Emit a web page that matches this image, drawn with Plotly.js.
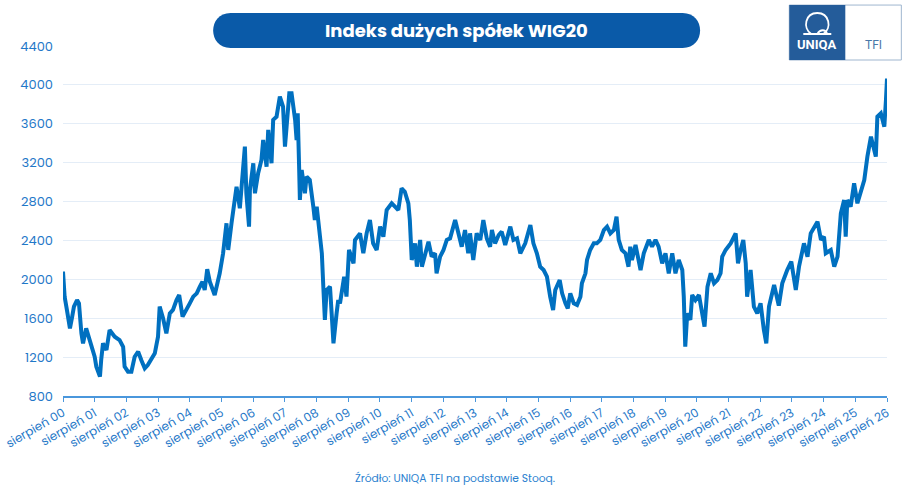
<!DOCTYPE html>
<html>
<head>
<meta charset="utf-8">
<script src="https://cdn.plot.ly/plotly-3.0.1.min.js"></script>
<style>
  html, body { margin: 0; padding: 0; background: #fff; }
  #chart { width: 907px; height: 494px; }
</style>
</head>
<body>
<div id="chart"></div>
<script>
// WIG20 - odczyt z wykresu
const dates = [
  "2000-08-01","2000-08-20","2000-09-15","2000-10-20","2000-11-15","2000-12-05",
  "2001-01-10","2001-02-01","2001-03-01","2001-03-20","2001-04-25","2001-06-05","2001-07-10","2001-08-01","2001-08-20","2001-10-01","2001-10-15","2001-11-05","2001-12-15",
  "2002-01-20","2002-03-20","2002-05-15","2002-06-25","2002-07-12","2002-08-20","2002-09-28","2002-11-05","2002-12-15",
  "2003-01-20","2003-03-01","2003-04-05","2003-05-15","2003-06-25","2003-08-01","2003-08-20","2003-09-28","2003-11-05","2003-12-15",
  "2004-01-20","2004-03-01","2004-04-01","2004-05-10","2004-06-15","2004-08-01","2004-09-10","2004-10-20","2004-11-25","2004-12-25",
  "2005-01-20","2005-02-18","2005-03-20","2005-05-15","2005-07-12","2005-08-20","2005-09-28","2005-10-18","2005-11-25",
  "2006-01-03","2006-01-22","2006-03-01","2006-03-20","2006-04-28","2006-05-15","2006-06-15","2006-06-25","2006-08-03","2006-08-22","2006-09-28","2006-11-05","2006-11-25",
  "2007-01-03","2007-01-22","2007-03-01","2007-03-20","2007-04-28","2007-06-05","2007-07-12","2007-08-03","2007-08-22","2007-09-22","2007-10-18","2007-11-28","2007-12-15","2007-12-28",
  "2008-01-12","2008-01-22","2008-02-12","2008-03-20","2008-04-08","2008-05-15","2008-06-25","2008-07-12","2008-08-03","2008-09-10","2008-10-01","2008-10-18","2008-11-05","2008-11-25",
  "2009-01-03","2009-01-22","2009-02-12","2009-03-20","2009-04-08","2009-04-28","2009-05-15","2009-06-15","2009-07-12","2009-08-10","2009-10-01","2009-10-18","2009-12-15",
  "2010-01-22","2010-03-01","2010-04-08","2010-05-15","2010-06-25","2010-08-03","2010-09-10","2010-10-18","2010-12-15",
  "2011-01-22","2011-03-01","2011-04-08","2011-05-15","2011-06-25","2011-07-12","2011-08-03","2011-09-10","2011-10-01","2011-11-08","2011-11-28",
  "2012-01-03","2012-02-12","2012-03-20","2012-04-28","2012-05-15","2012-06-25","2012-08-03","2012-09-10","2012-10-18","2012-12-15",
  "2013-01-22","2013-03-01","2013-04-08","2013-05-15","2013-06-05","2013-07-12","2013-08-20","2013-10-01","2013-11-05","2013-12-15",
  "2014-01-22","2014-02-12","2014-03-20","2014-05-01","2014-06-05","2014-07-15","2014-09-12","2014-10-18","2014-11-28",
  "2015-01-05","2015-03-03","2015-05-01","2015-06-05","2015-07-15","2015-08-22","2015-10-01","2015-11-08","2015-11-28","2015-12-15",
  "2016-01-18","2016-02-12","2016-04-03","2016-05-01","2016-06-08","2016-07-05","2016-08-03","2016-09-12","2016-10-20","2016-11-28","2016-12-15",
  "2017-01-25","2017-02-12","2017-03-20","2017-05-01","2017-06-05","2017-07-15","2017-08-25","2017-10-01","2017-11-08","2017-12-18",
  "2018-01-18","2018-02-12","2018-03-20","2018-05-01","2018-06-05","2018-06-25","2018-07-15","2018-08-25","2018-10-22","2018-11-28",
  "2019-01-25","2019-03-03","2019-04-12","2019-05-18","2019-06-28","2019-08-05","2019-09-12","2019-10-22","2019-11-28",
  "2020-01-05","2020-02-15","2020-03-03","2020-03-20","2020-04-12","2020-05-18","2020-06-08","2020-07-15","2020-08-25","2020-10-03","2020-10-28","2020-12-01",
  "2021-01-08","2021-02-15","2021-03-25","2021-05-01","2021-05-20","2021-06-28","2021-08-25","2021-10-22","2021-11-18","2021-12-18",
  "2022-01-18","2022-02-15","2022-03-03","2022-04-12","2022-05-20","2022-06-28","2022-08-05","2022-09-12","2022-10-10","2022-11-10","2022-12-01",
  "2023-01-08","2023-03-03","2023-04-12","2023-06-08","2023-07-25","2023-09-15","2023-10-22","2023-12-18",
  "2024-01-28","2024-03-05","2024-05-22","2024-07-01","2024-08-05","2024-08-25","2024-10-22","2024-12-01",
  "2025-01-08","2025-02-15","2025-03-25","2025-04-12","2025-05-01","2025-06-08","2025-07-18","2025-08-25","2025-10-03","2025-11-12","2025-12-18",
  "2026-01-28","2026-03-25","2026-04-12","2026-05-22","2026-07-01","2026-07-20","2026-08-01"
];

const wig20 = [
  2080,1820,1685,1496,1616,1719,
  1787,1753,1445,1342,1496,1376,1273,1205,1102,999,1170,1342,1273,
  1479,1410,1376,1307,1102,1050,1050,1204,1256,
  1170,1085,1119,1170,1239,1410,1719,1599,1445,1650,
  1685,1787,1839,1616,1685,1753,1822,1856,1925,1976,
  1890,2105,1975,1839,2062,2268,2576,2302,2576,
  2885,2953,2731,2953,3365,2885,2542,2919,3194,2885,3091,3228,3433,
  3159,3537,3194,3640,3673,3879,3776,3365,3570,3913,3913,3640,3433,3708,
  3194,2816,3125,2885,3056,3022,2747,2610,2747,2439,2268,1924,1582,1890,
  1924,1651,1342,1651,1787,1753,1856,2027,1822,2302,2165,2405,2473,
  2268,2473,2610,2370,2302,2542,2439,2713,2782,
  2747,2713,2936,2901,2782,2610,2199,2370,2130,2405,2130,
  2268,2387,2233,2268,2062,2233,2302,2405,2422,2610,
  2473,2336,2507,2268,2473,2199,2473,2405,2610,2420,
  2336,2507,2370,2456,2490,2353,2542,2405,2422,
  2268,2370,2559,2370,2268,2130,2096,2027,1890,1822,
  1685,1890,1993,1856,1753,1702,1856,1753,1736,1822,1959,
  2062,2199,2302,2370,2370,2405,2507,2542,2473,2507,
  2645,2405,2302,2268,2130,2336,2199,2353,2096,2268,
  2405,2336,2405,2336,2165,2268,2062,2268,2062,
  2199,2096,1822,1307,1651,1582,1839,1787,1839,1651,1513,1924,
  2062,1959,1993,2062,2233,2302,2370,2473,2165,2302,
  2405,2165,1822,2096,1719,1651,1753,1479,1342,1719,1787,
  1942,1730,1959,2096,2182,1890,2130,2370,
  2233,2473,2593,2405,2439,2268,2302,2130,
  2233,2679,2816,2439,2816,2747,2988,2782,2885,3022,3262,
  3468,3262,3673,3708,3570,3845,4065
];

const yTicks = [800, 1200, 1600, 2000, 2400, 2800, 3200, 3600, 4000, 4400];
const xTickVals = [
  "2000-08-01","2001-08-01","2002-08-01","2003-08-01","2004-08-01","2005-08-01","2006-08-01",
  "2007-08-01","2008-08-01","2009-08-01","2010-08-01","2011-08-01","2012-08-01","2013-08-01",
  "2014-08-01","2015-08-01","2016-08-01","2017-08-01","2018-08-01","2019-08-01","2020-08-01",
  "2021-08-01","2022-08-01","2023-08-01","2024-08-01","2025-08-01","2026-08-01"
];
const xTickText = [
  "sierpień 00","sierpień 01","sierpień 02","sierpień 03","sierpień 04","sierpień 05","sierpień 06",
  "sierpień 07","sierpień 08","sierpień 09","sierpień 10","sierpień 11","sierpień 12","sierpień 13",
  "sierpień 14","sierpień 15","sierpień 16","sierpień 17","sierpień 18","sierpień 19","sierpień 20",
  "sierpień 21","sierpień 22","sierpień 23","sierpień 24","sierpień 25","sierpień 26"
];

const blue = "#0070c0";
const tickBlue = "#1f78c8";
const font = "Poppins, 'Open Sans', sans-serif";

const trace = {
  x: dates,
  y: wig20,
  type: "scatter",
  mode: "lines",
  line: { color: blue, width: 4 },
  hoverinfo: "x+y"
};

// pigułka tytułu (w pikselach wokół środka)
const pill = "M -226,-17.5 L 226,-17.5 C 249.3,-17.5 249.3,17.5 226,17.5 " +
             "L -226,17.5 C -249.3,17.5 -249.3,-17.5 -226,-17.5 Z";

// symbol nad napisem UNIQA
const loop = "M -14,-10 L 14,-10 M -6,-10 C -15,-4 -12,11 0,11 C 12,11 15,-4 6,-10 " +
             "M 0,-10 C 3,-5 8,-5 10,-10";

const layout = {
  width: 907,
  height: 494,
  margin: { l: 63, r: 20, t: 46, b: 98 },
  paper_bgcolor: "#ffffff",
  plot_bgcolor: "#ffffff",
  showlegend: false,
  font: { family: font, color: tickBlue },
  xaxis: {
    type: "date",
    range: ["2000-08-01", "2026-08-01"],
    tickvals: xTickVals,
    ticktext: xTickText,
    tickangle: -30,
    tickfont: { size: 12, color: tickBlue },
    showgrid: false,
    zeroline: false,
    showline: true,
    linecolor: "#4a97dc",
    linewidth: 1.5,
    ticks: "outside",
    ticklen: 4,
    tickcolor: "#4a97dc"
  },
  yaxis: {
    range: [800, 4400],
    tickvals: yTicks,
    tickfont: { size: 13, color: tickBlue },
    gridcolor: "#e4edf7",
    gridwidth: 1,
    zeroline: false,
    showline: false,
    ticklabelstandoff: 9
  },
  shapes: [
    {
      type: "path", xref: "paper", yref: "paper",
      xsizemode: "pixel", ysizemode: "pixel",
      xanchor: 0.4777, yanchor: 1.0443,
      path: pill,
      fillcolor: "#0a5aa8", line: { width: 0 }
    },
    // logo UNIQA TFI
    {
      type: "rect", xref: "paper", yref: "paper",
      x0: 0.8814, x1: 1.0174, y0: 0.96, y1: 1.117,
      fillcolor: "#ffffff", line: { color: "#9fb6cf", width: 1 }
    },
    {
      type: "rect", xref: "paper", yref: "paper",
      x0: 0.8814, x1: 0.9494, y0: 0.96, y1: 1.117,
      fillcolor: "#245c9a", line: { width: 0 }
    },
    {
      type: "path", xref: "paper", yref: "paper",
      xsizemode: "pixel", ysizemode: "pixel",
      xanchor: 0.9154, yanchor: 1.0629,
      path: loop,
      line: { color: "#ffffff", width: 1.8 }
    }
  ],
  annotations: [
    {
      text: "<b>Indeks dużych spółek WIG20</b>",
      xref: "paper", yref: "paper",
      x: 0.4777, y: 1.0443, xanchor: "center", yanchor: "middle",
      showarrow: false,
      font: { family: font, size: 18, color: "#ffffff" }
    },
    {
      text: "<b>UNIQA</b>",
      xref: "paper", yref: "paper",
      x: 0.9154, y: 1.0029, xanchor: "center", yanchor: "middle",
      showarrow: false,
      font: { family: "Roboto, sans-serif", size: 13, color: "#ffffff" }
    },
    {
      text: "TFI",
      xref: "paper", yref: "paper",
      x: 0.9834, y: 1.0029, xanchor: "center", yanchor: "middle",
      showarrow: false,
      font: { family: "Roboto, sans-serif", size: 12, color: "#4a78a8" }
    },
    {
      text: "Źródło: UNIQA TFI na podstawie Stooq.",
      xref: "paper", yref: "paper",
      x: 0.4759, y: -0.237, xanchor: "center", yanchor: "middle",
      showarrow: false,
      font: { family: font, size: 10.7, color: "#2a7fcf" }
    }
  ]
};

Plotly.newPlot("chart", [trace], layout, { displayModeBar: false, staticPlot: true });
</script>
</body>
</html>
